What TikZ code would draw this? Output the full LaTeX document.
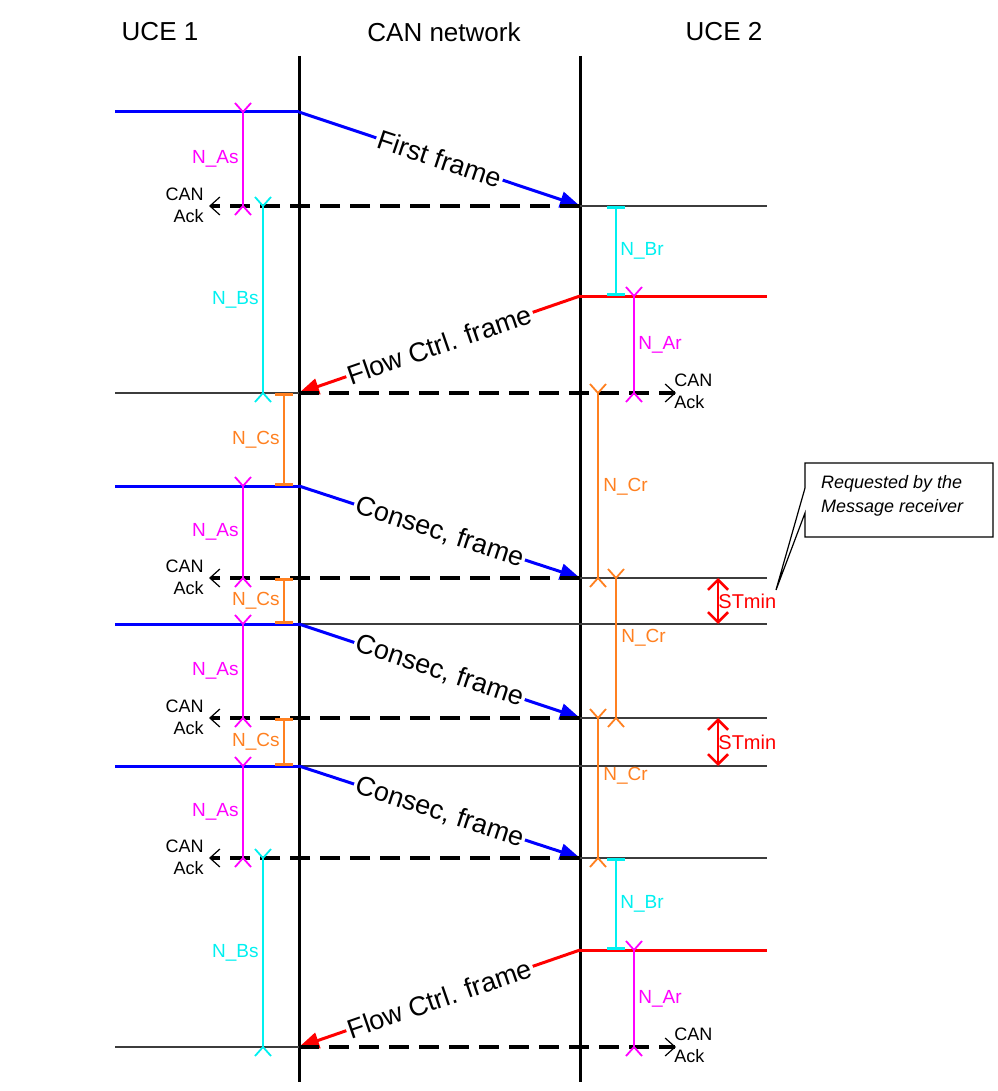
\documentclass[tikz,border=0pt]{standalone}
\usepackage{fontspec}
\setmainfont{Liberation Sans}
\usetikzlibrary{arrows.meta}
\definecolor{tmorange}{RGB}{255,128,32}
\definecolor{tmmagenta}{RGB}{255,0,255}
\definecolor{tmcyan}{RGB}{0,240,240}
\definecolor{tmblue}{RGB}{0,0,255}
\definecolor{tmred}{RGB}{255,0,0}
\definecolor{tmgray}{RGB}{60,60,60}
\tikzset{
  forkup/.pic={\draw[line width=0.9pt] (-8,-9) -- (0,0) -- (8,-9);},
  forkdown/.pic={\draw[line width=0.9pt] (-8,9) -- (0,0) -- (8,9);},
  head/.style={font=\fontsize{13}{15}\selectfont},
  msg/.style={line width=1.5pt, -{Triangle[length=10pt,width=8pt]}},
  msglbl/.style={font=\fontsize{13.5}{15}\selectfont, sloped, fill=white, inner sep=1pt, text=black},
  ack/.style={line width=2pt, dash pattern=on 10pt off 5pt, -{Straight Barb[line width=0.6pt,length=5pt,width=9pt]}},
  acklbl/.style={font=\fontsize{9}{11}\selectfont, inner sep=0pt},
  thinline/.style={tmgray, line width=0.7pt},
  timer/.style={line width=0.7pt},
  barred/.style={line width=0.7pt, {Bar[width=9pt,line width=1.5pt]}-{Bar[width=9pt,line width=1.5pt]}},
  lbl/.style={font=\fontsize{9.5}{11}\selectfont, inner sep=1pt},
}
\begin{document}
\begin{tikzpicture}[x=0.5pt, y=-0.5pt]
    \useasboundingbox (0,0) rectangle (997,1091);

    % headings
    \node[head] (uce1) at (160,32) {UCE 1};
    \node[head] (net) at (444,32) {CAN network};
    \node[head] (uce2) at (724,32) {UCE 2};

    % lifelines of the network
    \draw[line width=1.5pt] (299,56) -- (299,1082);
    \draw[line width=1.5pt] (580,56) -- (580,1082);

    % points on the lifelines
    \coordinate (L1) at (299,112);
    \coordinate (L2) at (299,393);
    \coordinate (L3) at (299,486);
    \coordinate (L4) at (299,624);
    \coordinate (L5) at (299,766);
    \coordinate (L6) at (299,1047);
    \coordinate (R1) at (580,206);
    \coordinate (R2) at (580,296);
    \coordinate (R3) at (580,578);
    \coordinate (R4) at (580,718);
    \coordinate (R5) at (580,858);
    \coordinate (R6) at (580,950);

    % thin time lines
    \foreach \y in {206, 578, 718, 858} {
        \draw[thinline] (580,\y) -- (767,\y);
    }
    \foreach \y in {624, 766} {
        \draw[thinline] (299,\y) -- (767,\y);
    }
    \foreach \y in {393, 1047} {
        \draw[thinline] (115,\y) -- (299,\y);
    }

    % sender and receiver levels
    \foreach \y in {112, 486, 624, 766} {
        \draw[tmblue, line width=1.5pt] (115,\y) -- (299,\y);
    }
    \foreach \y in {296, 950} {
        \draw[tmred, line width=1.5pt] (580,\y) -- (767,\y);
    }

    % frames
    \draw[msg, tmblue] (L1) -- node[msglbl] (ff) {First frame} (R1);
    \draw[msg, tmred] (R2) -- node[msglbl] (fc1) {Flow Ctrl. frame} (L2);
    \draw[msg, tmblue] (L3) -- node[msglbl] (cf1) {Consec, frame} (R3);
    \draw[msg, tmblue] (L4) -- node[msglbl] (cf2) {Consec, frame} (R4);
    \draw[msg, tmblue] (L5) -- node[msglbl] (cf3) {Consec, frame} (R5);
    \draw[msg, tmred] (R6) -- node[msglbl] (fc2) {Flow Ctrl. frame} (L6);

    % CAN acknowledgements
    \foreach \y in {206, 578, 718, 858} {
        \coordinate (a\y) at (209,\y);
        \draw[ack] (580,\y) -- (a\y);
        \node[acklbl, anchor=east, align=right] (ack\y) at (204,\y-1) {CAN\\Ack};
    }
    \foreach \y in {393, 1047} {
        \coordinate (a\y) at (676,\y);
        \draw[ack] (299,\y) -- (a\y);
        \node[acklbl, anchor=west, align=left] (ack\y) at (674,\y-2) {CAN\\Ack};
    }

    % N_As
    \foreach \ya/\yb in {112/206, 486/578, 624/718, 766/858} {
        \draw[timer, tmmagenta] (243,\ya) -- (243,\yb);
        \pic[tmmagenta] at (243,\ya) {forkup};
        \pic[tmmagenta] at (243,\yb) {forkdown};
        \node[lbl, tmmagenta, anchor=east] (nas\ya) at (241,{(\ya+\yb)/2}) {N\_As};
    }
    % N_Bs
    \foreach \ya/\yb in {206/393, 858/1047} {
        \draw[timer, tmcyan] (263,\ya) -- (263,\yb);
        \pic[tmcyan] at (263,\ya) {forkup};
        \pic[tmcyan] at (263,\yb) {forkdown};
        \node[lbl, tmcyan, anchor=east] (nbs\ya) at (261,{(\ya+\yb)/2}) {N\_Bs};
    }
    % N_Cs
    \foreach \ya/\yb in {393/486, 578/624, 718/766} {
        \draw[barred, tmorange] (284,\ya) -- (284,\yb);
        \node[lbl, tmorange, anchor=east] (ncs\ya) at (282,{(\ya+\yb)/2}) {N\_Cs};
    }
    % N_Br
    \foreach \ya/\yb in {206/296, 858/950} {
        \draw[barred, tmcyan] (616,\ya) -- (616,\yb);
        \node[lbl, tmcyan, anchor=west] (nbr\ya) at (618,{(\ya+\yb)/2}) {N\_Br};
    }
    % N_Ar
    \foreach \ya/\yb in {296/393, 950/1047} {
        \draw[timer, tmmagenta] (634,\ya) -- (634,\yb);
        \pic[tmmagenta] at (634,\ya) {forkup};
        \pic[tmmagenta] at (634,\yb) {forkdown};
        \node[lbl, tmmagenta, anchor=west] (nar\ya) at (636,{(\ya+\yb)/2}) {N\_Ar};
    }
    % N_Cr
    \foreach \x/\ya/\yb/\yl in {598/393/578/487, 616/578/718/638, 598/718/858/776} {
        \draw[timer, tmorange] (\x,\ya) -- (\x,\yb);
        \pic[tmorange] at (\x,\ya) {forkup};
        \pic[tmorange] at (\x,\yb) {forkdown};
        \node[lbl, tmorange, anchor=west] (ncr\ya) at (\x+3,\yl) {N\_Cr};
    }

    % STmin
    \foreach \ya/\yb in {578/624, 718/766} {
        \draw[tmred, line width=1.3pt, {Straight Barb[length=5pt,width=10pt]}-{Straight Barb[length=5pt,width=10pt]}] (718,\ya) -- (718,\yb);
        \node[lbl, tmred, anchor=west, font=\fontsize{10}{12}\selectfont] (st\ya) at (716,{(\ya+\yb)/2}) {STmin};
    }

    % note
    \draw[line width=0.6pt] (805,488) -- (805,463) -- (993,463) -- (993,537) -- (805,537) -- (805,513) -- (776,590) -- cycle;
    \node[font=\itshape\fontsize{9}{12}\selectfont, align=left, anchor=west] (note) at (814,496) {Requested by the\\Message receiver};
\end{tikzpicture}
\end{document}
